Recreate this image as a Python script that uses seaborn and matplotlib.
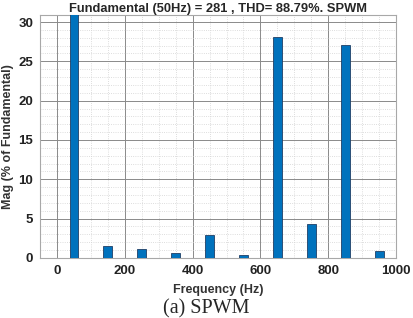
import seaborn as sns
import matplotlib.pyplot as plt
from matplotlib.ticker import MultipleLocator

# harmonic spectrum
freq_hz = [50, 150, 250, 350, 450, 550, 650, 750, 850, 950]
mag_pct = [100, 1.5, 1.1, 0.6, 2.9, 0.35, 28.1, 4.3, 27.1, 0.9]
x_ticks = [0, 200, 400, 600, 800, 1000]
y_ticks = [0, 5, 10, 15, 20, 25, 30]

sns.set_style("white")
plt.rcParams['font.family'] = ['Liberation Sans', 'DejaVu Sans']

fig = plt.figure(figsize=(4.13, 3.18), dpi=100)
ax = fig.add_axes([0.097, 0.189, 0.862, 0.764])

sns.barplot(x=freq_hz, y=mag_pct, native_scale=True, width=0.26,
            color='#0072BD', edgecolor='#1f3f66', linewidth=0.6,
            saturation=1, ax=ax, zorder=3)

ax.set_xlim(-50, 1000)
ax.set_ylim(0, 30.9)
ax.set_xticks(x_ticks)
ax.set_yticks(y_ticks)
ax.xaxis.set_minor_locator(MultipleLocator(50))
ax.yaxis.set_minor_locator(MultipleLocator(1))
ax.grid(which='major', color='#8a8a8a', linewidth=0.7, zorder=0)
ax.grid(which='minor', color='#d2d2d2', linestyle=':', linewidth=0.6, zorder=0)
ax.set_axisbelow(True)
ax.tick_params(which='both', length=0, labelsize=9.5, pad=5)
for lab in ax.get_xticklabels() + ax.get_yticklabels():
    lab.set_fontweight('bold')
    lab.set_color('#222222')
for s in ax.spines.values():
    s.set_color('#a8a8a8')
    s.set_linewidth(0.8)

ax.set_title('Fundamental (50Hz) = 281 , THD= 88.79%. SPWM',
             fontsize=9.3, fontweight='bold', pad=2)
ax.set_xlabel('Frequency (Hz)', fontsize=9, fontweight='bold', color='#333333', labelpad=5)
ax.set_ylabel('Mag (% of Fundamental)', fontsize=9, fontweight='bold', color='#333333', labelpad=3)

fig.text(0.5, 0.03, '(a) SPWM', ha='center', va='center',
         fontsize=14.5, family='Liberation Serif')

fig.savefig('out.png', dpi=100)
